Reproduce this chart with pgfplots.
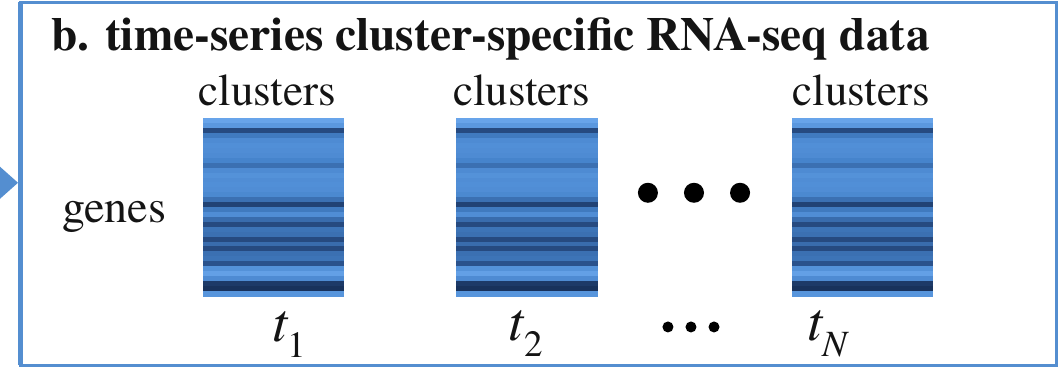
\documentclass[border=0pt]{standalone}
\usepackage{fontspec}
\usepackage{pgfplots}
\usepackage{pgfplotstable}
\pgfplotsset{compat=1.18}
\setmainfont{texgyretermes}[Extension=.otf, UprightFont=*-regular, BoldFont=*-bold, ItalicFont=*-italic, BoldItalicFont=*-bolditalic]

\definecolor{frameblue}{RGB}{84,142,208}
\definecolor{inkblack}{RGB}{20,20,20}

% expression levels per gene row: x = left/right edge of the map,
% y = row boundary (0 = top), c = level of the row starting at y
\pgfplotstableread{
x y c
0 0 .85
1 0 .85
0 1 .72
1 1 .72
0 2 .20
1 2 .20
0 3 .45
1 3 .45
0 4 .58
1 4 .58
0 5 .62
1 5 .62
0 6 .60
1 6 .60
0 7 .58
1 7 .58
0 8 .50
1 8 .50
0 9 .40
1 9 .40
0 10 .58
1 10 .58
0 11 .65
1 11 .65
0 12 .60
1 12 .60
0 13 .62
1 13 .62
0 14 .60
1 14 .60
0 15 .55
1 15 .55
0 16 .40
1 16 .40
0 17 .15
1 17 .15
0 18 .45
1 18 .45
0 19 .60
1 19 .60
0 20 .38
1 20 .38
0 21 .20
1 21 .20
0 22 .42
1 22 .42
0 23 .40
1 23 .40
0 24 .20
1 24 .20
0 25 .38
1 25 .38
0 26 .20
1 26 .20
0 27 .40
1 27 .40
0 28 .42
1 28 .42
0 29 .25
1 29 .25
0 30 .65
1 30 .65
0 31 .80
1 31 .80
0 32 .58
1 32 .58
0 33 .10
1 33 .10
0 34 .05
1 34 .05
0 35 .68
1 35 .68
0 36 .68
1 36 .68
}\heatdata

\newcommand\tlab[1]{{\fontsize{55}{60}\selectfont\itshape t}\raisebox{-15pt}{\fontsize{37}{40}\selectfont #1}}
\newcommand\clus{\fontsize{45}{50}\selectfont clusters}

\begin{document}
\begin{tikzpicture}
\begin{axis}[
  width=1058pt, height=367pt, scale only axis,
  xmin=0, xmax=1058, ymin=0, ymax=367,
  hide axis, clip=false,
  colormap={exprblue}{rgb255=(20,42,80) rgb255=(42,82,140) rgb255=(70,132,204) rgb255=(94,155,226) rgb255=(118,178,245)},
  point meta min=0, point meta max=1,
  heat/.style={surf, mesh/cols=2, mesh/ordering=x varies, shader=flat corner, point meta=explicit},
]
% panel frame and incoming arrow
\draw[frameblue, line width=3pt] (axis cs:20,3) rectangle (axis cs:1055,365);
\draw[frameblue, line width=5pt] (axis cs:20,3) -- (axis cs:20,365);
\fill[frameblue] (axis cs:0,201) -- (axis cs:18,185) -- (axis cs:0,169) -- cycle;

% three heatmaps, one per time point
\addplot[heat] table[x expr=203+\thisrow{x}*140, y expr=249-\thisrow{y}*4.9167, meta=c] {\heatdata};
\addplot[heat] table[x expr=456+\thisrow{x}*140, y expr=249-\thisrow{y}*4.9167, meta=c] {\heatdata};
\addplot[heat] table[x expr=791+\thisrow{x}*140, y expr=249-\thisrow{y}*4.9167, meta=c] {\heatdata};

% texts
\node[anchor=base west, inner sep=0, text=inkblack] at (axis cs:51,317)
  {\fontsize{47.3}{52}\selectfont\bfseries b. time-series cluster-specific RNA-seq data};
\node[anchor=base, inner sep=0, text=inkblack] at (axis cs:267,262) {\clus};
\node[anchor=base, inner sep=0, text=inkblack] at (axis cs:521,262) {\clus};
\node[anchor=base, inner sep=0, text=inkblack] at (axis cs:860,262) {\clus};
\node[anchor=base west, inner sep=0, text=inkblack] at (axis cs:62,145)
  {\fontsize{46}{50}\selectfont genes};
\node[anchor=base west, inner sep=0, text=inkblack] at (axis cs:272,26) {\tlab{1}};
\node[anchor=base west, inner sep=0, text=inkblack] at (axis cs:508,27) {\tlab{2}};
\node[anchor=base west, inner sep=0, text=inkblack] at (axis cs:806,27) {\tlab{\itshape N}};

% ellipses
\fill[black] (axis cs:647,175) circle[radius=10pt];
\fill[black] (axis cs:693,175) circle[radius=10pt];
\fill[black] (axis cs:739,175) circle[radius=10pt];
\fill[black] (axis cs:667,41) circle[radius=5.5pt];
\fill[black] (axis cs:690,41) circle[radius=5.5pt];
\fill[black] (axis cs:713,41) circle[radius=5.5pt];
\end{axis}
\end{tikzpicture}
\end{document}
